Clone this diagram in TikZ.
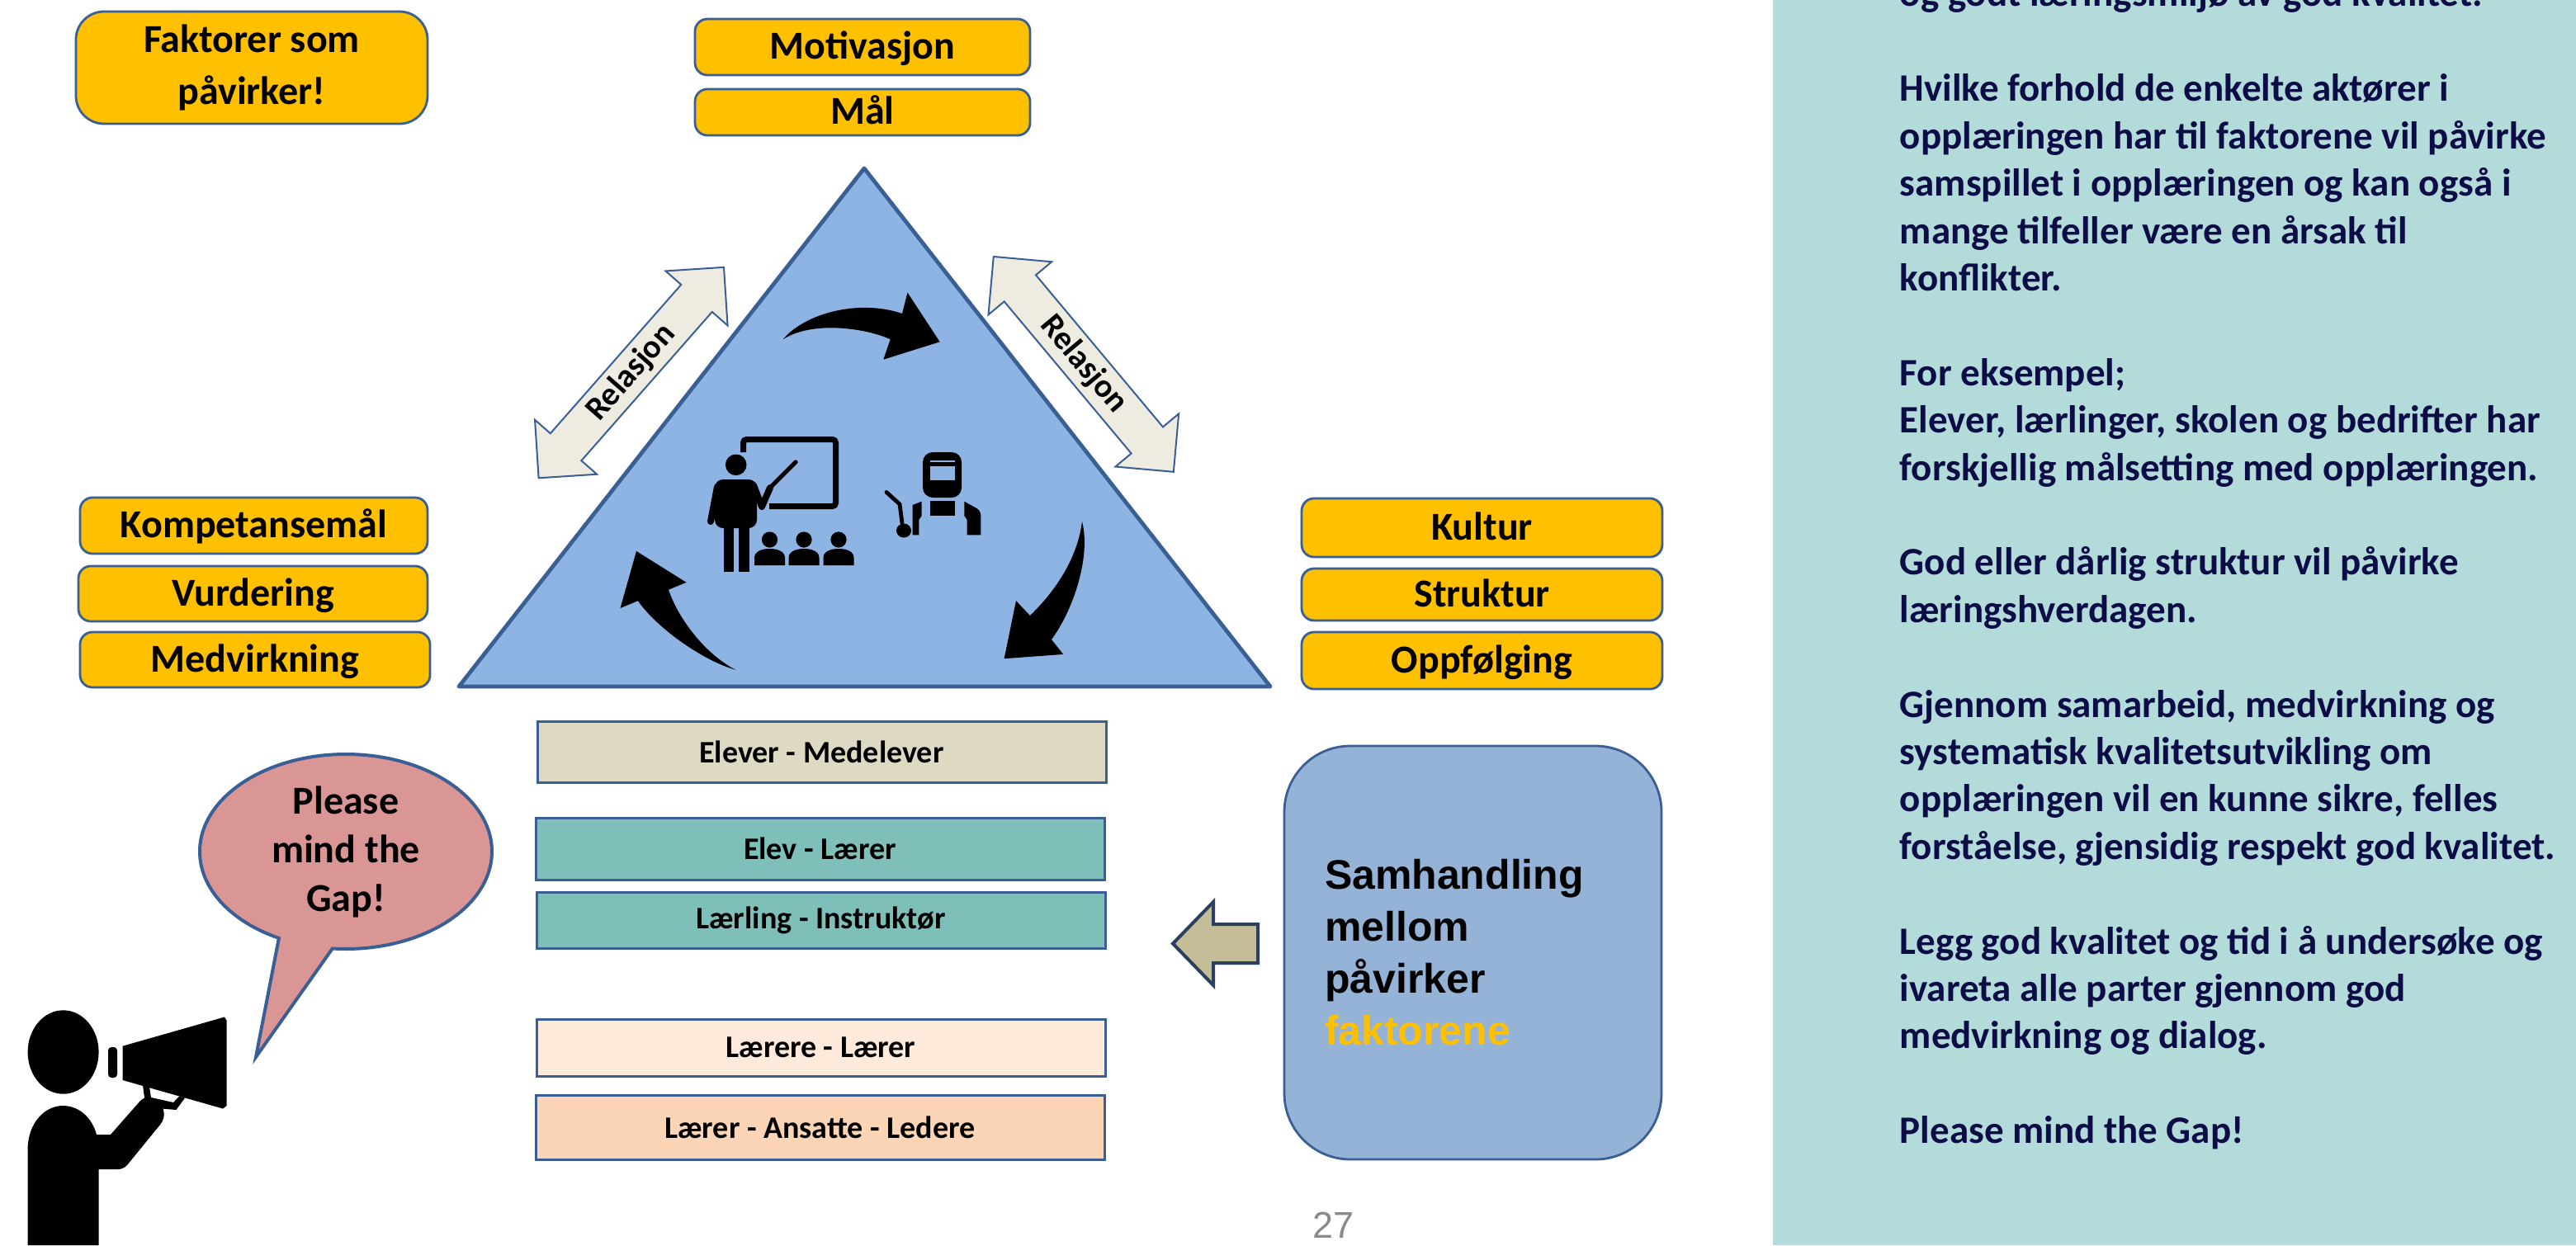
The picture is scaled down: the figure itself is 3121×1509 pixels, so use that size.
\documentclass[tikz,border=0pt]{standalone}
\usepackage{fontspec}
\setmainfont{Carlito}
\newfontfamily\arialfont{Liberation Sans}
\usepackage{xcolor}
\definecolor{ffc000}{HTML}{FFC000}
\definecolor{3a5f95}{HTML}{3A5F95}
\definecolor{8eb4e3}{HTML}{8EB4E3}
\definecolor{eeece1}{HTML}{EEECE1}
\definecolor{ddd9c3}{HTML}{DDD9C3}
\definecolor{7fbfba}{HTML}{7FBFBA}
\definecolor{fdeada}{HTML}{FDEADA}
\definecolor{fbd5b5}{HTML}{FBD5B5}
\definecolor{95b3d7}{HTML}{95B3D7}
\definecolor{c4bd97}{HTML}{C4BD97}
\definecolor{2b3f5f}{HTML}{2B3F5F}
\definecolor{d99694}{HTML}{D99694}
\definecolor{b3dbda}{HTML}{B3DBDA}
\definecolor{0c0c46}{HTML}{0C0C46}
\definecolor{8a8a8a}{HTML}{8A8A8A}
\usepackage{tikz}
\usetikzlibrary{shapes.callouts}

\tikzset{
    ybox/.style={draw=3a5f95, line width=0.7pt, fill=ffc000, rounded corners=3.75pt,
        inner sep=0pt, text height=9.4pt, text depth=2pt,
        font=\bfseries\fontsize{12}{14.5}\selectfont},
    rbox/.style={draw=3a5f95, line width=0.75pt, minimum width=172.25pt, inner sep=0pt,
        font=\bfseries\fontsize{9.5}{11}\selectfont},
    relarrow/.style={draw=3a5f95, line width=0.5pt, fill=eeece1},
    reltext/.style={font=\bfseries\fontsize{10}{12}\selectfont, inner sep=0pt},
    paneltext/.style={anchor=base west, inner sep=0pt, text=0c0c46,
        font=\bfseries\fontsize{11.75}{14.35}\selectfont}
}

\begin{document}
\begin{tikzpicture}[x=0.25pt, y=-0.25pt]
            \path[use as bounding box, fill=white] (0,0) rectangle (3121,1509);

            % right panel
            \fill[b3dbda] (2148,0) rectangle (3121,1509);
            \foreach \n/\txt in {0/{og godt læringsmiljø av god kvalitet.},
                2/{Hvilke forhold de enkelte aktører i},
                3/{opplæringen har til faktorene vil påvirke},
                4/{samspillet i opplæringen og kan også i},
                5/{mange tilfeller være en årsak til},
                6/{konflikter.},
                8/{For eksempel;},
                9/{Elever, lærlinger, skolen og bedrifter har},
                10/{forskjellig målsetting med opplæringen.},
                12/{God eller dårlig struktur vil påvirke},
                13/{læringshverdagen.},
                15/{Gjennom samarbeid, medvirkning og},
                16/{systematisk kvalitetsutvikling om},
                17/{opplæringen vil en kunne sikre, felles},
                18/{forståelse, gjensidig respekt god kvalitet.},
                20/{Legg god kvalitet og tid i å undersøke og},
                21/{ivareta alle parter gjennom god},
                22/{medvirkning og dialog.},
                24/{Please mind the Gap!}} {
                \node[paneltext] (t\n) at (2301, 8+57.4*\n) {\txt};
            }

            % triangle
            \coordinate (top) at (1047,204);
            \coordinate (bl) at (556,832);
            \coordinate (br) at (1539,832);
            \draw[draw=3a5f95, line width=1.2pt, fill=8eb4e3, line join=round] (top) -- (br) -- (bl) -- cycle;

            % relasjon arrows
            \begin{scope}[shift={(764.8,451.6)}, rotate=48.7]
                \draw[relarrow] (-170,0) -- (-120,-50) -- (-120,-25) -- (120,-25) -- (120,-50) -- (170,0)
                    -- (120,50) -- (120,25) -- (-120,25) -- (-120,50) -- cycle;
                \node[reltext, rotate=48.7] (rel1) at (0,0) {Relasjon};
            \end{scope}
            \begin{scope}[shift={(1312.8,441.4)}, rotate=-50.1]
                \draw[relarrow] (-170,0) -- (-120,-50) -- (-120,-25) -- (120,-25) -- (120,-50) -- (170,0)
                    -- (120,50) -- (120,25) -- (-120,25) -- (-120,50) -- cycle;
                \node[reltext, rotate=-50.1] (rel2) at (0,0) {Relasjon};
            \end{scope}

            % curved arrows
            \fill (948.6,411.2) .. controls (975,380) and (1040,362) .. (1093,380) -- (1099.5,354.5)
                -- (1138.6,414.3) -- (1070.3,435.7) -- (1078.7,411.2)
                .. controls (1050,398) and (985,388) .. cycle;
            \fill (1311,632) .. controls (1322,675) and (1300,740) .. (1273.9,775) -- (1288.2,792.9)
                -- (1216.6,798.2) -- (1231,728.1) -- (1247.9,746)
                .. controls (1275,720) and (1305,680) .. cycle;
            \fill (891.3,811.8) .. controls (850,800) and (795,760) .. (772.9,728.1) -- (751.5,737)
                -- (771,667.9) -- (831.5,705.8) -- (810,714.7)
                .. controls (820,745) and (850,790) .. cycle;

            % teacher
            \draw[line width=1.75pt, rounded corners=1pt] (900.5,548) -- (900.5,532.5) -- (1012.5,532.5)
                -- (1012.5,613.5) -- (932,613.5);
            \fill (891.7,563.3) circle[radius=3.2pt];
            \fill[rounded corners=2.5pt] (866,640) -- (866,581) -- (917,581) -- (917,640) -- cycle;
            \draw[line width=2pt, line cap=round] (869,590) -- (861,632);
            \fill (877,635) rectangle (889,693);
            \fill (895,635) rectangle (908,693);
            \draw[line width=2pt, line cap=round, line join=round] (913,588) -- (923,614) -- (933,591);
            \draw[line width=1.3pt, line cap=round] (932,592) -- (964,560);
            \foreach \sx in {932.5, 974, 1016} {
                \fill (\sx,654) circle[radius=2.4pt];
                \fill (\sx-18.5,685) -- (\sx-18.5,676) .. controls (\sx-18.5,668) and (\sx-9,665) .. (\sx,665)
                    .. controls (\sx+9,665) and (\sx+18.5,668) .. (\sx+18.5,676) -- (\sx+18.5,685) -- cycle;
            }

            % welder
            \fill[rounded corners=3pt] (1118,548) rectangle (1165,603);
            \fill[8eb4e3] (1127,565) rectangle (1157,582);
            \fill[8eb4e3] (1127,557.5) rectangle (1157,560);
            \fill (1127,607) rectangle (1157,625);
            \fill (1168.3,607.7) -- (1183.3,616) .. controls (1187,619) .. (1188.3,624) -- (1188.3,648.3)
                -- (1171.7,648.3) -- (1171.7,630) -- (1168.3,625) -- cycle;
            \fill (1116.7,607.7) -- (1116.7,625) -- (1113.3,630) -- (1113.3,648.3) -- (1105.7,648.3)
                -- (1105.7,612) -- cycle;
            \draw[line width=1.2pt, line cap=round] (1074,596.5) -- (1090,611) -- (1093,634);
            \fill (1095,643) ellipse[x radius=9, y radius=8.5];

            % factor boxes
            \node[draw=3a5f95, line width=0.7pt, fill=ffc000, rounded corners=8.5pt, inner sep=0pt,
                minimum width=106.5pt, minimum height=34pt, align=center,
                font=\bfseries\fontsize{12}{15.75}\selectfont] (faktorer) at (305,82) {Faktorer som\\påvirker!};
            \node[ybox, minimum width=101.5pt, minimum height=17pt] (motiv) at (1045,57) {Motivasjon};
            \node[ybox, minimum width=101.5pt, minimum height=14pt] (maal) at (1045,136) {Mål};
            \node[ybox, minimum width=105.25pt, minimum height=17pt] (kompetanse) at (307.5,637) {Kompetansemål};
            \node[ybox, minimum width=105.75pt, minimum height=16.75pt] (vurdering) at (306.5,719.5) {Vurdering};
            \node[ybox, minimum width=106pt, minimum height=16.75pt] (medvirkning) at (309,799.5) {Medvirkning};
            \node[ybox, minimum width=109.25pt, minimum height=17.75pt] (kultur) at (1795.5,639.5) {Kultur};
            \node[ybox, minimum width=109.25pt, minimum height=15.75pt] (struktur) at (1795.5,720.5) {Struktur};
            \node[ybox, minimum width=109.25pt, minimum height=17.25pt] (oppfolging) at (1795.5,800.5) {Oppfølging};

            % relation boxes
            \node[rbox, fill=ddd9c3, minimum height=18.5pt] (elmed) at (995.5,911) {Elever - Medelever};
            \node[rbox, fill=7fbfba, minimum height=18.75pt] (ellaer) at (993.5,1028.5) {Elev - Lærer};
            \node[rbox, fill=7fbfba, minimum height=17pt] (lainst) at (994.5,1115) {Lærling - Instruktør};
            \node[rbox, fill=fdeada, minimum height=17.25pt] (lelaer) at (994.5,1269.5) {Lærere - Lærer};
            \node[rbox, fill=fbd5b5, minimum height=19.5pt] (ledere) at (993.5,1366) {Lærer - Ansatte - Ledere};

            % samhandling
            \node[draw=3a5f95, line width=0.7pt, fill=95b3d7, rounded corners=20pt, minimum width=114.25pt,
                minimum height=125.25pt, inner sep=0pt, text width=89.75pt, align=left,
                font=\arialfont\bfseries\fontsize{12.5}{15.75}\selectfont] (samh) at (1784.5,1154.5)
                {Samhandling\\mellom\\påvirker\\\textcolor{ffc000}{faktorene}};
            \draw[draw=2b3f5f, line width=1pt, fill=c4bd97] (1524,1120) -- (1470,1120) -- (1470,1093)
                -- (1421,1143.5) -- (1470,1194) -- (1470,1167) -- (1524,1167) -- cycle;

            % speech bubble and person
            \node[ellipse callout, draw=3a5f95, line width=1pt, fill=d99694, minimum width=88.5pt,
                minimum height=59pt, inner sep=0pt, callout absolute pointer={(310,1281)},
                callout pointer arc=22, align=center, font=\bfseries\fontsize{12}{14.75}\selectfont]
                (gap) at (419,1032) {Please\\mind the\\Gap!};
            \fill (76.6,1275) ellipse[x radius=43, y radius=50.7];
            \fill (33.5,1509) -- (33.5,1394) .. controls (33.5,1360) and (55,1340) .. (76,1340)
                .. controls (97,1340) and (112,1356) .. (117,1375) -- (134,1375) -- (170,1334)
                .. controls (178,1326) and (192,1330) .. (198,1345) .. controls (200,1352) and (198,1358) .. (194,1363)
                -- (154,1412) .. controls (150,1416) and (146,1417) .. (143,1417) -- (119.6,1417)
                -- (119.6,1509) -- cycle;
            \fill[rounded corners=1pt] (131,1269) rectangle (142,1306);
            \fill (148.7,1267.7) -- (272,1232.5) -- (274.6,1236.7) -- (274.6,1340) -- (270,1343.5)
                -- (148.7,1309) -- cycle;
            \fill (173,1315) -- (181,1317) -- (183,1330) -- (210,1336) -- (217.4,1328.5) -- (224,1330.6)
                -- (213.4,1345) -- (196,1343.5) -- (176,1338) -- cycle;

            \node[font=\arialfont\fontsize{11.25}{13}\selectfont, text=8a8a8a, anchor=base, inner sep=0pt]
                (pagenum) at (1615.5,1500) {27};
        \end{tikzpicture}
\end{document}
